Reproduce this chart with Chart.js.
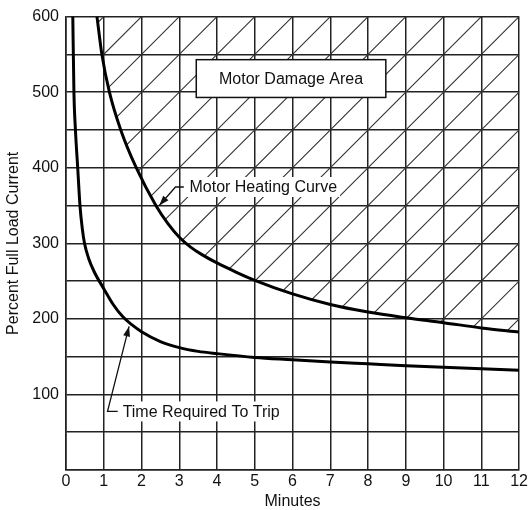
<!DOCTYPE html>
<html>
<head>
<meta charset="utf-8">
<script src="https://cdn.jsdelivr.net/npm/chart.js@4"></script>
<style>
  html, body { margin: 0; padding: 0; background: #fff; }
</style>
</head>
<body>
<canvas id="motorChart" width="530" height="510"></canvas>
<script>
// Data: minutes vs percent of full load current
const heatingMinutes = [0.82, 0.95, 1.15, 1.45, 1.86, 2.38, 2.7, 3, 3.3, 3.6, 4, 4.5, 5, 6, 7, 8, 9, 10, 11, 12];
const heatingPercent = [600, 550, 500, 450, 400, 350, 326, 308, 295, 285, 274, 262, 251, 233, 219, 209, 201.5, 195, 188, 182.5];

const tripMinutes = [0.18, 0.21, 0.25, 0.31, 0.37, 0.43, 0.49, 0.6, 0.75, 1, 1.25, 1.5, 1.75, 2, 2.5, 3, 3.5, 4, 5, 6, 7, 8, 9, 10, 11, 12];
const tripPercent = [600, 500, 450, 400, 350, 320, 300, 280, 262, 240, 219, 203, 192, 183, 170, 162, 157, 154, 149, 146, 143, 140.5, 138, 136, 134, 132];

const xTicks = [0, 1, 2, 3, 4, 5, 6, 7, 8, 9, 10, 11, 12];
const yLabels = [100, 200, 300, 400, 500, 600];

const damageLabel = 'Motor Damage Area';
const heatingLabel = 'Motor Heating Curve';
const tripLabel = 'Time Required To Trip';

const FONT = "'Liberation Sans', Arial, sans-serif";
const INK = '#111';
const GRID = '#222';

const toPoints = (xs, ys) => xs.map((v, i) => ({ x: v, y: ys[i] }));

// hatching above the heating curve, one diagonal per grid cell
const hatchPlugin = {
    id: 'damageHatch',
    beforeDatasetsDraw(chart) {
        const { ctx, chartArea: area, scales: { x, y } } = chart;
        const meta = chart.getDatasetMeta(0);
        const line = meta.dataset;
        line.updateControlPoints(area, 'x');

        ctx.save();
        ctx.beginPath();
        ctx.rect(area.left, area.top, area.right - area.left, area.bottom - area.top);
        ctx.clip();
        ctx.beginPath();
        line.path(ctx);
        ctx.lineTo(area.right, area.top - 5);
        ctx.lineTo(meta.data[0].x, area.top - 5);
        ctx.closePath();
        ctx.clip();

        ctx.strokeStyle = '#333';
        ctx.lineWidth = 1.1;
        ctx.beginPath();
        for (let c = -12; c <= 12; c++) {
            ctx.moveTo(x.getPixelForValue(c), y.getPixelForValue(0));
            ctx.lineTo(x.getPixelForValue(c + 12), y.getPixelForValue(600));
        }
        ctx.stroke();
        ctx.restore();
    }
};

function drawArrowLabel(chart, text, tip, elbow, end, textAt) {
    const { ctx, scales: { x, y } } = chart;
    const p = (pt) => [x.getPixelForValue(pt[0]), y.getPixelForValue(pt[1])];
    const [tx, ty] = p(tip);
    const [ex, ey] = p(elbow);
    const [nx, ny] = p(end);
    const [lx, ly] = p(textAt);

    ctx.font = `16px ${FONT}`;
    const w = ctx.measureText(text).width;
    ctx.fillStyle = '#fff';
    ctx.fillRect(lx - 3, ly - 10, w + 6, 20);

    ctx.strokeStyle = INK;
    ctx.lineWidth = 1.3;
    ctx.beginPath();
    ctx.moveTo(nx, ny);
    ctx.lineTo(ex, ey);
    ctx.lineTo(tx, ty);
    ctx.stroke();

    // arrow head
    const ang = Math.atan2(ty - ey, tx - ex);
    const len = 10, half = 3.5;
    ctx.fillStyle = INK;
    ctx.beginPath();
    ctx.moveTo(tx, ty);
    ctx.lineTo(tx - len * Math.cos(ang) + half * Math.sin(ang), ty - len * Math.sin(ang) - half * Math.cos(ang));
    ctx.lineTo(tx - len * Math.cos(ang) - half * Math.sin(ang), ty - len * Math.sin(ang) + half * Math.cos(ang));
    ctx.closePath();
    ctx.fill();

    ctx.fillStyle = INK;
    ctx.textAlign = 'left';
    ctx.textBaseline = 'middle';
    ctx.fillText(text, lx, ly + 1);
}

const labelPlugin = {
    id: 'curveLabels',
    afterDatasetsDraw(chart) {
        const { ctx, scales: { x, y } } = chart;
        ctx.save();

        // Motor Damage Area box
        const bx1 = x.getPixelForValue(3.45), bx2 = x.getPixelForValue(8.47);
        const by1 = y.getPixelForValue(543), by2 = y.getPixelForValue(493);
        ctx.fillStyle = '#fff';
        ctx.fillRect(bx1, by1, bx2 - bx1, by2 - by1);
        ctx.strokeStyle = INK;
        ctx.lineWidth = 1.5;
        ctx.strokeRect(bx1, by1, bx2 - bx1, by2 - by1);
        ctx.fillStyle = INK;
        ctx.font = `16px ${FONT}`;
        ctx.textAlign = 'center';
        ctx.textBaseline = 'middle';
        ctx.fillText(damageLabel, (bx1 + bx2) / 2, (by1 + by2) / 2 + 1);

        drawArrowLabel(chart, heatingLabel, [2.47, 350], [2.9, 374.5], [3.12, 374.5], [3.27, 374.5]);
        drawArrowLabel(chart, tripLabel, [1.67, 190], [1.1, 77.5], [1.37, 77.5], [1.5, 77.5]);

        ctx.restore();
    }
};

Chart.defaults.font.family = FONT;
Chart.defaults.font.size = 16;
Chart.defaults.color = INK;

new Chart(document.getElementById('motorChart'), {
    type: 'line',
    data: {
        datasets: [
            {
                label: heatingLabel,
                data: toPoints(heatingMinutes, heatingPercent),
                borderColor: '#000',
                borderWidth: 3,
                pointRadius: 0,
                cubicInterpolationMode: 'monotone',
                fill: false
            },
            {
                label: tripLabel,
                data: toPoints(tripMinutes, tripPercent),
                borderColor: '#000',
                borderWidth: 3,
                pointRadius: 0,
                cubicInterpolationMode: 'monotone',
                fill: false
            }
        ]
    },
    options: {
        responsive: false,
        animation: false,
        layout: { padding: { top: 16, right: 10, bottom: 0, left: 0 } },
        plugins: {
            legend: { display: false },
            tooltip: { enabled: false }
        },
        scales: {
            x: {
                type: 'linear',
                min: xTicks[0],
                max: xTicks[xTicks.length - 1],
                afterBuildTicks: (scale) => { scale.ticks = xTicks.map(v => ({ value: v })); },
                afterFit: (scale) => { scale.height = 40; },
                ticks: { padding: 2, autoSkip: false, maxRotation: 0, color: INK },
                grid: { color: GRID, lineWidth: 1.5, drawTicks: false },
                border: { color: GRID, width: 1.6 },
                title: { display: true, text: 'Minutes', color: INK, font: { size: 16, lineHeight: 1 }, padding: { top: 0, bottom: 0 } }
            },
            y: {
                min: 0,
                max: 600,
                afterFit: (scale) => { scale.width = 66; },
                ticks: {
                    stepSize: 50,
                    autoSkip: false,
                    padding: 7,
                    color: INK,
                    callback: (v) => yLabels.includes(v) ? String(v) : ''
                },
                grid: { color: GRID, lineWidth: 1.5, drawTicks: false },
                border: { color: GRID, width: 1.6 },
                title: { display: true, text: 'Percent Full Load Current', color: INK, font: { size: 16, lineHeight: 1 }, padding: { top: 6, bottom: 0 } }
            }
        }
    },
    plugins: [hatchPlugin, labelPlugin]
});
</script>
</body>
</html>
